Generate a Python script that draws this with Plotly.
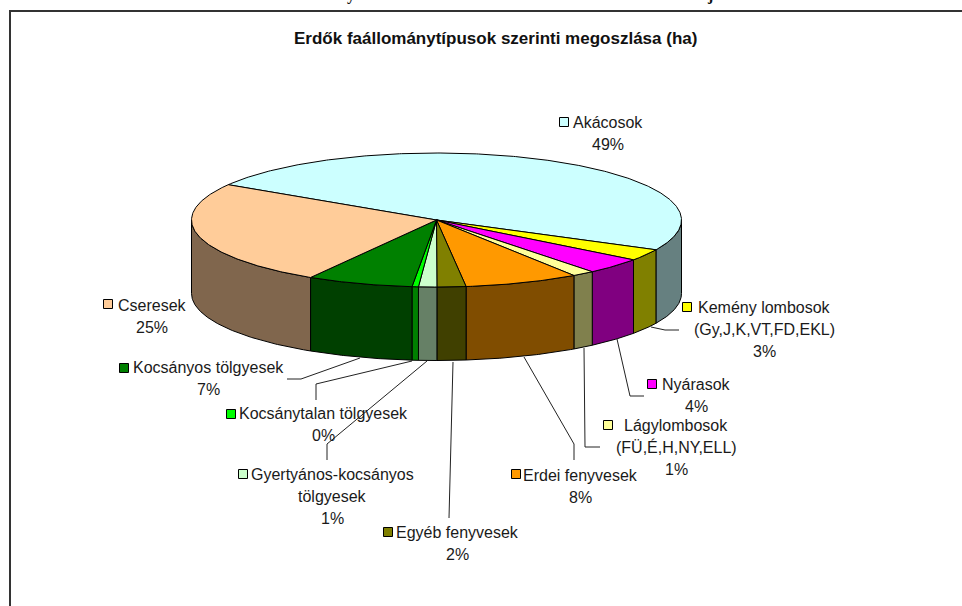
import numpy as np
import plotly.graph_objects as go

# --- data (share of area, %) ---
categories = ["Akácosok", "Kemény lombosok (Gy,J,K,VT,FD,EKL)", "Nyárasok",
              "Lágylombosok (FÜ,É,H,NY,ELL)", "Erdei fenyvesek", "Egyéb fenyvesek",
              "Gyertyános-kocsányos tölgyesek", "Kocsánytalan tölgyesek",
              "Kocsányos tölgyesek", "Cseresek"]
values = [48.5, 2.8, 3.9, 1.49, 7.55, 1.9, 1.2, 0.42, 7.0, 25.24]
top_colors = ["#CCFFFF", "#FFFF00", "#FF00FF", "#FFFF99", "#FF9900",
              "#808000", "#CCFFCC", "#00FF00", "#008000", "#FFCC99"]
side_colors = ["#668080", "#808000", "#800080", "#80804D", "#804D00",
               "#404000", "#668066", "#008000", "#004000", "#80664D"]

TITLE = "Erdők faállománytípusok szerinti megoszlása (ha)"
FONT = "Liberation Sans"
CX, CY, RX, RY, DEPTH = 436.5, 220.0, 245.0, 67.0, 73.5
START = 148.2

# label layout
label_text = [["Akácosok", "49%"],
              ["Kemény lombosok", "(Gy,J,K,VT,FD,EKL)", "3%"],
              ["Nyárasok", "4%"],
              ["Lágylombosok", "(FÜ,É,H,NY,ELL)", "1%"],
              ["Erdei fenyvesek", "8%"],
              ["Egyéb fenyvesek", "2%"],
              ["Gyertyános-kocsányos", "tölgyesek", "1%"],
              ["Kocsánytalan tölgyesek", "0%"],
              ["Kocsányos tölgyesek", "7%"],
              ["Cseresek", "25%"]]
label_x = [608, 764, 696, 676, 580, 457, 332, 323, 208, 152]
label_y = [122, 307, 384, 425, 475, 532, 474, 413, 367, 305]
key_x = [564, 687, 652, 608, 516, 388, 243, 231, 124, 108]
key_y = [122, 307, 384, 425, 474, 532, 474, 414, 368, 304]
leaders_x = [[], [651, 665, 679], [617, 630, 644], [584, 585, 600], [524, 574, 574],
             [453, 449], [427, 327, 327], [412, 316, 316], [360, 301, 287], []]
leaders_y = [[], [327, 330, 330], [339, 396, 396], [348, 447, 447], [357, 444, 460],
             [362, 518], [361, 444, 460], [361, 384, 400], [358, 379, 379], []]
LINE_H = 22.3

# descenders of the cropped line of page text above the chart
cropped_glyphs = ["y", "j"]
cropped_x = [351, 710]

fig = go.Figure()


def rim(a, b):
    n = max(2, int(abs(b - a) * 2) + 1)
    t = np.radians(np.linspace(a, b, n))
    return CX + RX * np.cos(t), CY - RY * np.sin(t)


def add_poly(x, y, color):
    fig.add_trace(go.Scatter(x=list(x), y=list(y), mode="lines", fill="toself",
                             fillcolor=color, line=dict(color="black", width=1),
                             hoverinfo="skip", showlegend=False))


# slice angle boundaries, clockwise from START
edges = START - np.cumsum([0] + values) * 360 / sum(values)

# walls on the visible front half of the rim (-180..0 degrees)
for i in range(len(values)):
    a, b = edges[i], edges[i + 1]
    for shift in (0, 360):
        hi, lo = min(a + shift, 0), max(b + shift, -180)
        if hi > lo:
            xr, yr = rim(hi, lo)
            add_poly(np.r_[xr, xr[::-1], xr[0]], np.r_[yr, yr[::-1] + DEPTH, yr[0]], side_colors[i])

# top faces
for i in range(len(values)):
    xr, yr = rim(edges[i], edges[i + 1])
    add_poly(np.r_[CX, xr, CX], np.r_[CY, yr, CY], top_colors[i])

# leader lines
for lx, ly in zip(leaders_x, leaders_y):
    if lx:
        fig.add_trace(go.Scatter(x=lx, y=ly, mode="lines", line=dict(color="#222222", width=1),
                                 hoverinfo="skip", showlegend=False))

# legend keys
fig.add_trace(go.Scatter(x=key_x, y=key_y, mode="markers", hoverinfo="skip", showlegend=False,
                         marker=dict(symbol="square", size=9, color=top_colors,
                                     line=dict(color="black", width=1))))

# labels
for txt, x, y in zip(label_text, label_x, label_y):
    for j, line in enumerate(txt):
        fig.add_annotation(x=x, y=y + j * LINE_H, text=line, showarrow=False, xanchor="center",
                           yanchor="middle", font=dict(family=FONT, size=16, color="#1a1a1a"))

fig.add_annotation(x=495, y=38, text="<b>" + TITLE + "</b>", showarrow=False, xanchor="center",
                   yanchor="middle", font=dict(family=FONT, size=17, color="#111111"))

for g, x in zip(cropped_glyphs, cropped_x):
    fig.add_annotation(x=x, y=5, text="<b>" + g + "</b>", showarrow=False, xanchor="center",
                       yanchor="bottom", borderpad=0, font=dict(family="Liberation Serif", size=16, color="#111111"))

fig.update_layout(
    width=962, height=606, margin=dict(l=0, r=0, t=0, b=0),
    paper_bgcolor="white", plot_bgcolor="white", showlegend=False,
    xaxis=dict(range=[0, 962], visible=False, fixedrange=True),
    yaxis=dict(range=[606, 0], visible=False, fixedrange=True),
    shapes=[dict(type="rect", x0=10, y0=11, x1=1000, y1=700, xref="x", yref="y",
                 line=dict(color="#333333", width=2), layer="below")],
)
fig.write_html("out.html", config=dict(displayModeBar=False),
               post_script="document.body.style.margin='0';document.documentElement.style.overflow='hidden';")
